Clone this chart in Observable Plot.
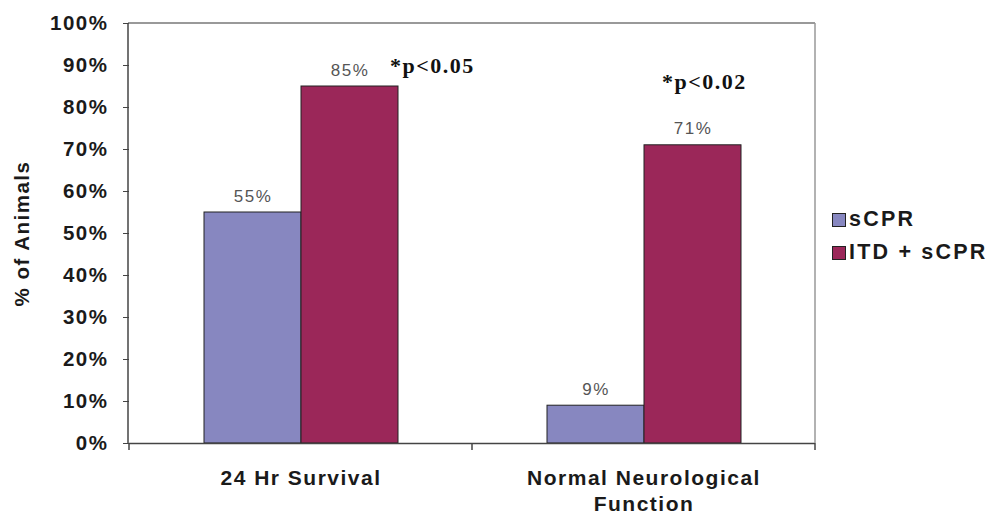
<!DOCTYPE html>
<html><head><meta charset="utf-8">
<script src="https://cdn.jsdelivr.net/npm/d3@7"></script>
<script src="https://cdn.jsdelivr.net/npm/@observablehq/plot@0.6"></script>
<style>
body{margin:0;background:#fff;}
#wrap{position:relative;width:987px;height:514px;font-family:"Liberation Sans",Arial,sans-serif;}
.legend{position:absolute;left:832px;top:203px;}
.item{display:flex;align-items:center;height:33px;font-weight:bold;font-size:21.5px;letter-spacing:2.2px;color:#1a1a1a;white-space:nowrap}
.sw{width:12px;height:12px;border:1px solid #222;margin-right:3px;flex:none}
</style></head>
<body><div id="wrap"></div>
<script>
const categories = ["24 Hr Survival", "Normal Neurological Function"];
const categoryLabels = ["24 Hr Survival", "Normal Neurological\nFunction"];
const series = ["sCPR", "ITD + sCPR"];
const sCPR = [0.55, 0.09];
const itdSCPR = [0.85, 0.71];
const yTicks = [0, 0.1, 0.2, 0.3, 0.4, 0.5, 0.6, 0.7, 0.8, 0.9, 1.0];
const pValues = ["*p<0.05", "*p<0.02"];
const pLevels = [0.881, 0.845];
const colors = ["#8787C0", "#9B2759"];

const data = [];
categories.forEach((c, i) => {
  data.push({category: c, series: series[0], value: sCPR[i]});
  data.push({category: c, series: series[1], value: itdSCPR[i]});
});
const ann1 = [{category: categories[0], series: series[1], y: pLevels[0], text: pValues[0]}];
const ann2 = [{category: categories[1], series: series[1], y: pLevels[1], text: pValues[1]}];

const chart = Plot.plot({
  width: 987,
  height: 514,
  marginLeft: 128,
  marginRight: 172,
  marginTop: 23,
  marginBottom: 71,
  style: {fontFamily: '"Liberation Sans", Arial, sans-serif', letterSpacing: "1.5px", background: "#fff", color: "#1a1a1a"},
  fx: {domain: categories, padding: 0},
  x: {domain: series, paddingInner: 0, paddingOuter: 0.753, axis: null},
  y: {domain: [0, 1]},
  color: {domain: series, range: colors},
  marks: [
    Plot.barY(data, {fx: "category", x: "series", y: "value", fill: "series", stroke: "#222", strokeWidth: 1}),
    Plot.ruleY([0], {stroke: "#444", strokeWidth: 1.5}),
    Plot.text(data, {fx: "category", x: "series", y: "value", text: d => d3.format(".0%")(d.value),
      lineAnchor: "bottom", dy: -11, fontSize: 17, fill: "#555", fontWeight: "normal"}),
    Plot.text(ann1, {fx: "category", x: "series", y: "y", text: "text", textAnchor: "start", dx: 40,
      lineAnchor: "bottom", fontFamily: '"Liberation Serif", "Times New Roman", serif', fontWeight: "bold", fontSize: 22, fill: "#111"}),
    Plot.text(ann2, {fx: "category", x: "series", y: "y", text: "text", textAnchor: "start", dx: -31,
      lineAnchor: "bottom", fontFamily: '"Liberation Serif", "Times New Roman", serif', fontWeight: "bold", fontSize: 22, fill: "#111"}),
    Plot.axisY({ticks: yTicks, tickFormat: d3.format(".0%"), tickSize: 6, tickPadding: 15,
      fontSize: 20.5, fontWeight: "bold", stroke: "#444",
      label: "% of Animals", labelAnchor: "center", labelOffset: 115, labelArrow: "none"}),
    Plot.axisFx({anchor: "bottom", tickSize: 0, tickPadding: 24, fontSize: 21, fontWeight: "bold",
      label: null, lineHeight: 1.2, tickFormat: d => categoryLabels[categories.indexOf(d)]})
  ]
});

document.getElementById("wrap").appendChild(chart);

// frame lines and category boundary ticks from the library's scales
const fxS = chart.scale("fx");
const yS = chart.scale("y");
const x0 = fxS.range[0], x1 = fxS.range[1];
const yTop = yS.apply(1), yBot = yS.apply(0);
const g = d3.select(chart).append("g");
g.append("line").attr("x1", x0).attr("x2", x1).attr("y1", yTop).attr("y2", yTop).attr("stroke", "#777").attr("stroke-width", 1.5);
g.append("line").attr("x1", x1).attr("x2", x1).attr("y1", yTop).attr("y2", yBot).attr("stroke", "#999").attr("stroke-width", 1.5);
g.append("line").attr("x1", x0).attr("x2", x0).attr("y1", yTop).attr("y2", yBot).attr("stroke", "#444").attr("stroke-width", 1.5);
const bounds = categories.map(c => fxS.apply(c)).concat([x1]);
bounds.forEach(b => {
  g.append("line").attr("x1", b).attr("x2", b).attr("y1", yBot).attr("y2", yBot + 7).attr("stroke", "#444").attr("stroke-width", 1.5);
});

// legend
const leg = d3.select("#wrap").append("div").attr("class", "legend");
series.forEach((s, i) => {
  const it = leg.append("div").attr("class", "item");
  it.append("div").attr("class", "sw").style("background", chart.scale("color").apply(s));
  it.append("span").text(s);
});
</script></body></html>
